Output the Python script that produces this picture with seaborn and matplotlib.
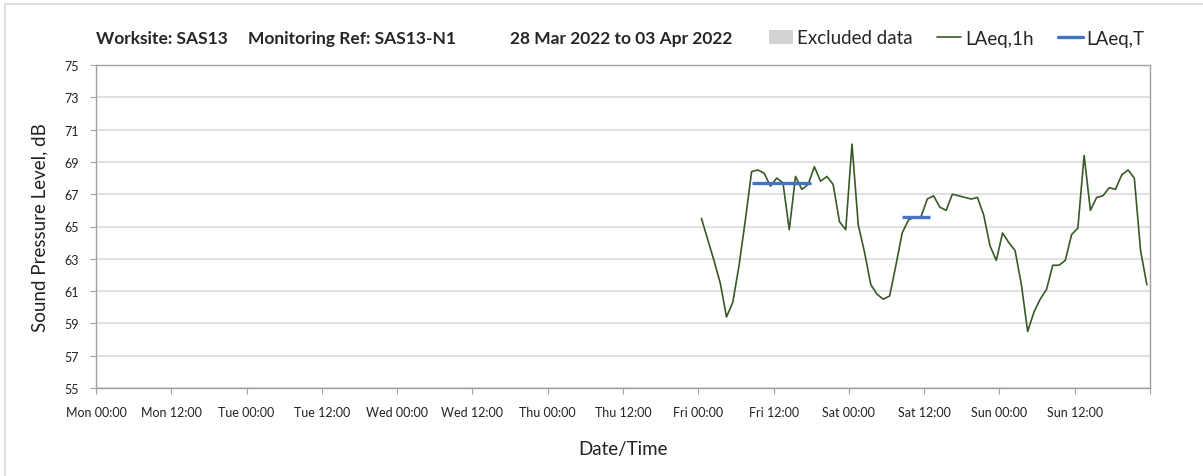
import matplotlib
matplotlib.use("Agg")
import matplotlib.pyplot as plt
import matplotlib.dates as mdates
from matplotlib.lines import Line2D
from matplotlib.patches import Rectangle
import seaborn as sns
import pandas as pd
import numpy as np

# ---------------- data ----------------
title_site = "Worksite: SAS13"
title_ref = "Monitoring Ref: SAS13-N1"
title_dates = "28 Mar 2022 to 03 Apr 2022"

laeq_1h_start = "2022-04-01 00:30"
laeq_1h_values = [
    65.5, 64.2, 62.9, 61.5, 59.4, 60.3, 62.6, 65.4, 68.4, 68.5, 68.3, 67.5,
    68.0, 67.7, 64.8, 68.1, 67.3, 67.6, 68.7, 67.8, 68.1, 67.6, 65.3, 64.8,
    70.1, 65.1, 63.4, 61.4, 60.8, 60.5, 60.7, 62.6, 64.6, 65.4, 65.6, 65.6,
    66.7, 66.9, 66.2, 66.0, 67.0, 66.9, 66.8, 66.7, 66.8, 65.7, 63.8, 62.9,
    64.6, 64.0, 63.5, 61.4, 58.5, 59.7, 60.5, 61.1, 62.6, 62.6, 62.9, 64.5,
    64.9, 69.4, 66.0, 66.8, 66.9, 67.4, 67.3, 68.2, 68.5, 68.0, 63.5, 61.4,
]
laeq_t_periods = [
    ("2022-04-01 08:30", "2022-04-01 17:55", 67.7),
    ("2022-04-02 08:30", "2022-04-02 12:55", 65.6),
]
y_ticks = list(range(55, 76, 2))
x_start = "2022-03-28 00:00"
x_end = "2022-04-04 00:00"

# ---------------- styling ----------------
sns.set_theme(style="white")
plt.rcParams["font.family"] = ["Lato", "DejaVu Sans"]

W, H = 1203, 477
fig = plt.figure(figsize=(W / 100, H / 100), dpi=100)
fig.patch.set_facecolor("white")

L, R, T, B = 96, 1150, 66, 389
ax = fig.add_axes([L / W, 1 - B / H, (R - L) / W, (B - T) / H])

times = pd.date_range(laeq_1h_start, periods=len(laeq_1h_values), freq="h")
df = pd.DataFrame({"time": times, "LAeq,1h": laeq_1h_values})

green = "#375A25"
blue = "#4472C4"
sns.lineplot(data=df, x="time", y="LAeq,1h", ax=ax, color=green, lw=1.2)

for s, e, v in laeq_t_periods:
    seg = pd.DataFrame({"time": pd.to_datetime([s, e]), "val": [v, v]})
    sns.lineplot(data=seg, x="time", y="val", ax=ax, color=blue, lw=2.4,
                 solid_capstyle="butt")

ax.set_xlim(pd.Timestamp(x_start), pd.Timestamp(x_end))
ax.set_ylim(55, 75)
ax.set_yticks(y_ticks)
ax.set_yticklabels([str(t) for t in y_ticks])

major = pd.date_range(x_start, x_end, freq="12h")
ax.set_xticks(mdates.date2num(major))
ax.set_xticklabels([d.strftime("%a %H:%M") if d < pd.Timestamp(x_end) else "" for d in major])
days = pd.date_range(x_start, x_end, freq="24h")
ax.set_xticks(mdates.date2num(days), minor=True)

ax.grid(False)
ax.yaxis.grid(True, color="#D9D9D9", lw=1.1)
ax.xaxis.grid(True, which="minor", color="#E3E3E3", lw=1.0)
ax.set_axisbelow(True)

spine_c = "#A0A0A0"
for sp in ax.spines.values():
    sp.set_color(spine_c)
    sp.set_linewidth(1.0)

ax.tick_params(axis="x", which="major", length=4, width=0.8, color=spine_c,
               labelsize=9, pad=9, labelcolor="#222222", direction="out")
ax.tick_params(axis="x", which="minor", length=0)
ax.tick_params(axis="y", length=4, width=0.8, color=spine_c, labelsize=9,
               pad=8, labelcolor="#222222", direction="out")
ax.tick_params(bottom=True, left=True)

ax.set_xlabel("Date/Time", fontsize=13.5, labelpad=16, color="#222222")
ax.set_ylabel("Sound Pressure Level, dB", fontsize=13.5, labelpad=12, color="#222222")

# title pieces
ty = 1 - 39 / H
fig.text(96 / W, ty, title_site, fontsize=12.5, fontweight="bold", va="center", ha="left")
fig.text(248 / W, ty, title_ref, fontsize=12.5, fontweight="bold", va="center", ha="left")
fig.text(510 / W, ty, title_dates, fontsize=12.5, fontweight="bold", va="center", ha="left")

# legend
handles = [
    Rectangle((0, 0), 1, 1, facecolor="#D3D3D3", edgecolor="none"),
    Line2D([0], [0], color=green, lw=1.2),
    Line2D([0], [0], color=blue, lw=2.4),
]
labels = ["Excluded data", "LAeq,1h", "LAeq,T"]
fig.legend(handles, labels, loc="center left", bbox_to_anchor=(752 / W, ty),
           ncol=3, frameon=False, fontsize=13.5, handlelength=1.3,
           handletextpad=0.2, columnspacing=1.3)

# outer chart border
bc = "#D9D9D9"
x0 = 5 / W
y0 = 1 - 5 / H
fig.add_artist(Line2D([x0, x0], [-0.05, y0], transform=fig.transFigure, color=bc, lw=1.2))
fig.add_artist(Line2D([x0, 1.05], [y0, y0], transform=fig.transFigure, color=bc, lw=1.2))

fig.savefig("out.png", dpi=100)
